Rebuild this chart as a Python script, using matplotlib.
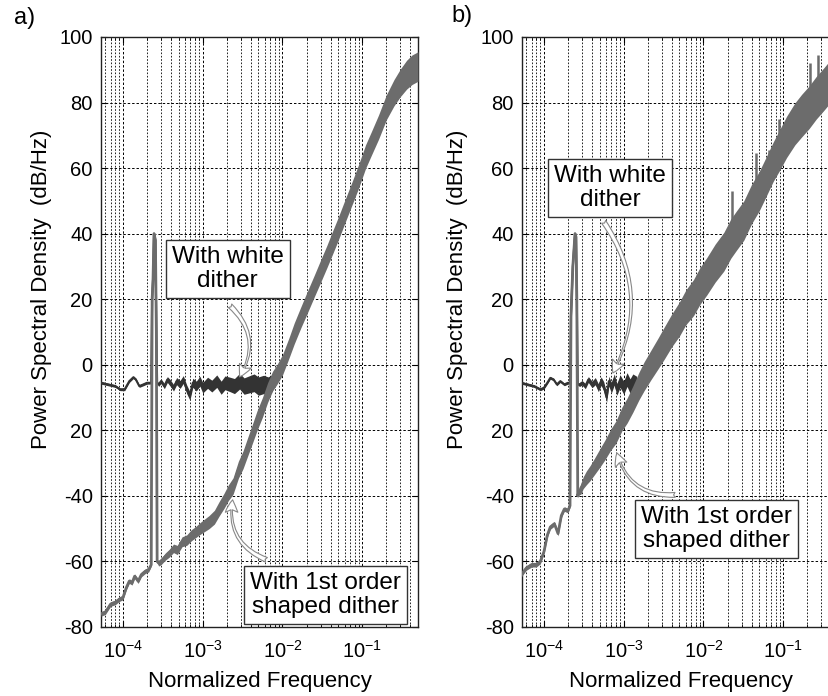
import numpy as np
import matplotlib
matplotlib.use("Agg")
from matplotlib import pyplot as plt
from matplotlib.ticker import LogLocator, NullFormatter

plt.rcParams['font.family'] = ['Liberation Sans', 'DejaVu Sans']
plt.rcParams['mathtext.default'] = 'regular'
plt.rcParams['axes.unicode_minus'] = False

# ---- panel a : white dither ----
wa_f = [5.3e-5, 6.5e-5, 8.0e-5, 9.2e-5, 1.05e-4, 1.2e-4, 1.35e-4, 1.45e-4, 1.6e-4, 1.8e-4,
        2.0e-4, 2.15e-4, 2.26e-4, 2.32e-4, 2.38e-4, 2.45e-4, 2.55e-4, 2.62e-4, 2.68e-4, 2.8e-4,
        3.0e-4, 3.3e-4, 3.6e-4, 3.9e-4, 4.3e-4, 4.7e-4, 5.2e-4, 5.7e-4, 6.3e-4, 6.9e-4,
        7.5e-4, 8.3e-4, 9.2e-4, 1.0e-3, 1.15e-3, 1.3e-3, 1.5e-3, 1.7e-3, 1.9e-3, 2.2e-3,
        2.5e-3, 2.9e-3, 3.3e-3, 3.8e-3, 4.4e-3, 5.0e-3, 5.8e-3, 6.6e-3, 7.5e-3]
wa_v = [-5.5, -6, -6.5, -7.5, -7.5, -5, -3.8, -4.5, -6.5, -6,
        -5.5, -5.5, -5.5, 20, 26, 40, 38, 10, -5.5, -6,
        -5, -6.5, -4.5, -5.5, -7, -5, -6, -4.5, -7.5, -9.5,
        -5.5, -6.5, -5, -7, -5.5, -6.5, -5, -7, -5.5, -6,
        -6.5, -5, -6.5, -6, -5.5, -6.5, -6, -6.5, -5.5]
wa_s = [0.4, 0.4, 0.4, 0.4, 0.4, 0.4, 0.4, 0.4, 0.4, 0.4,
        0.4, 0.4, 0.3, 0.3, 0.3, 0.3, 0.3, 0.3, 0.3, 0.6,
        0.7, 0.8, 0.9, 1.0, 1.0, 1.1, 1.2, 1.2, 1.3, 1.3,
        1.4, 1.5, 1.5, 1.6, 1.7, 1.8, 1.9, 2.0, 2.1, 2.2,
        2.3, 2.4, 2.5, 2.6, 2.7, 2.8, 2.8, 2.8, 2.5]

# ---- panel a : 1st order shaped dither ----
sa_f = [5.3e-5, 6.0e-5, 7.0e-5, 8.0e-5, 9.0e-5, 1.0e-4, 1.1e-4, 1.2e-4, 1.3e-4, 1.4e-4,
        1.55e-4, 1.7e-4, 1.9e-4, 2.1e-4, 2.26e-4, 2.32e-4, 2.38e-4, 2.45e-4, 2.55e-4, 2.62e-4,
        2.68e-4, 2.8e-4, 3.0e-4, 3.4e-4, 3.8e-4, 4.3e-4, 4.8e-4, 5.5e-4, 6.3e-4, 7.2e-4,
        8.2e-4, 9.2e-4, 1.05e-3, 1.2e-3, 1.4e-3, 1.6e-3, 1.85e-3, 2.1e-3, 2.4e-3, 2.8e-3,
        3.2e-3, 3.6e-3, 4.2e-3, 4.8e-3, 5.6e-3, 6.5e-3, 7.5e-3, 8.5e-3, 1.0e-2, 1.2e-2,
        1.4e-2, 1.7e-2, 2.0e-2, 2.5e-2, 3.0e-2, 3.6e-2, 4.2e-2, 5.0e-2, 6.0e-2, 7.5e-2,
        9.0e-2, 1.1e-1, 1.3e-1, 1.6e-1, 2.0e-1, 2.5e-1, 3.0e-1, 3.6e-1, 4.2e-1, 5.0e-1]
sa_v = [-76, -75.5, -73, -72.5, -71.5, -71, -68, -66, -66.5, -64.5,
        -66, -64, -63, -62.5, -61, 20, 26, 40, 38, 10,
        -60, -60.5, -60, -58.5, -57.5, -56, -56.5, -54, -53.5, -52,
        -51, -50, -49, -48, -46.5, -44, -41.5, -39, -37, -32,
        -29, -25.5, -21, -17, -13, -8.5, -5, -3, 0, 5,
        9.5, 14.5, 18.5, 24, 28.5, 33, 37, 41.5, 46.5, 52.5,
        57.5, 63.5, 67.5, 72.5, 78.5, 83, 86, 88.5, 90, 91]
sa_s = [0.7, 0.7, 0.7, 0.7, 0.7, 0.7, 0.7, 0.7, 0.7, 0.7,
        0.7, 0.7, 0.7, 0.7, 0.5, 0.3, 0.3, 0.3, 0.3, 0.3,
        0.5, 0.9, 1.0, 1.1, 1.2, 1.3, 1.4, 1.5, 1.6, 1.7,
        1.7, 1.8, 1.9, 2.0, 2.1, 2.2, 2.3, 2.4, 2.5, 2.6,
        2.7, 2.8, 2.9, 3.0, 3.0, 3.0, 3.0, 3.0, 3.1, 3.1,
        3.2, 3.2, 3.3, 3.3, 3.4, 3.4, 3.5, 3.5, 3.5, 3.5,
        3.6, 3.6, 3.6, 3.7, 3.8, 4.0, 4.2, 4.4, 4.5, 4.5]

# ---- panel b : white dither ----
wb_f = [5.2e-5, 6.2e-5, 7.5e-5, 9.0e-5, 1.0e-4, 1.1e-4, 1.2e-4, 1.32e-4, 1.45e-4, 1.6e-4,
        1.8e-4, 2.0e-4, 2.12e-4, 2.18e-4, 2.3e-4, 2.45e-4, 2.52e-4, 2.58e-4, 2.65e-4, 2.8e-4,
        3.0e-4, 3.3e-4, 3.6e-4, 4.0e-4, 4.4e-4, 4.8e-4, 5.2e-4, 5.6e-4, 6.1e-4, 6.5e-4,
        7.0e-4, 7.6e-4, 8.2e-4, 9.0e-4, 1.0e-3, 1.1e-3, 1.2e-3, 1.3e-3, 1.45e-3]
wb_v = [-5.5, -6, -6.5, -7.5, -7, -5.5, -4, -4.5, -6, -5,
        -6, -5.5, -5.5, 15, 30, 40, 39, 20, -6, -6,
        -5.5, -6.5, -4.5, -6, -5, -7, -5, -6.5, -10, -5,
        -7, -4.5, -7.5, -5, -7, -4.5, -6.5, -5, -5.5]
wb_s = [0.4, 0.4, 0.4, 0.4, 0.4, 0.4, 0.4, 0.4, 0.4, 0.4,
        0.4, 0.4, 0.3, 0.3, 0.3, 0.3, 0.3, 0.3, 0.3, 0.6,
        0.7, 0.8, 0.9, 1.0, 1.1, 1.2, 1.3, 1.4, 1.4, 1.5,
        1.6, 1.7, 1.8, 1.9, 2.0, 2.1, 2.2, 2.2, 2.0]

# ---- panel b : 1st order shaped dither ----
sb_f = [5.2e-5, 6.0e-5, 7.0e-5, 8.0e-5, 9.0e-5, 1.0e-4, 1.1e-4, 1.2e-4, 1.35e-4, 1.5e-4,
        1.65e-4, 1.8e-4, 2.0e-4, 2.12e-4, 2.18e-4, 2.3e-4, 2.45e-4, 2.52e-4, 2.58e-4, 2.65e-4,
        2.75e-4, 2.9e-4, 3.1e-4, 3.4e-4, 3.8e-4, 4.3e-4, 5.0e-4, 5.8e-4, 6.8e-4, 8.0e-4,
        9.5e-4, 1.1e-3, 1.3e-3, 1.55e-3, 1.8e-3, 2.2e-3, 2.7e-3, 3.2e-3, 4.0e-3, 5.0e-3,
        6.0e-3, 7.5e-3, 9.0e-3, 1.1e-2, 1.4e-2, 1.8e-2, 2.2e-2, 2.6e-2, 3.2e-2, 4.0e-2,
        5.0e-2, 6.0e-2, 7.5e-2, 9.0e-2, 1.1e-1, 1.4e-1, 1.7e-1, 2.1e-1, 2.6e-1, 3.2e-1,
        3.9e-1, 5.0e-1]
sb_v = [-64, -62, -61, -61, -60, -57, -52, -49.5, -48.5, -51.5,
        -46, -44, -44.5, -43, 15, 30, 40, 39, 20, -40,
        -38.5, -38, -36, -34.5, -33, -31, -28.5, -26, -23, -20.5,
        -16.5, -14, -10.5, -6.5, -3.5, 0, 3.5, 6.5, 10.5, 14,
        17.5, 20.5, 24, 27, 31, 34.5, 38.5, 41, 44, 49,
        53, 57, 62, 65.5, 69.5, 73.5, 76, 78.5, 81.5, 84,
        86.5, 89]
sb_s = [0.7, 0.7, 0.7, 0.7, 0.7, 0.7, 0.7, 0.7, 0.7, 0.7,
        0.7, 0.7, 0.7, 0.5, 0.3, 0.3, 0.3, 0.3, 0.3, 0.5,
        1.2, 1.5, 1.8, 2.1, 2.3, 2.5, 2.8, 3.0, 3.2, 3.4,
        3.6, 3.8, 4.0, 4.2, 4.4, 4.5, 4.7, 4.9, 5.0, 5.2,
        5.3, 5.5, 5.6, 5.7, 5.8, 5.9, 6.0, 6.0, 6.0, 6.0,
        6.0, 6.0, 6.0, 6.2, 6.3, 6.4, 6.5, 6.5, 6.5, 6.5,
        6.5, 6.5]
# narrow tones sticking out of the band in b
sb_tone_f = [2.3e-2, 4.55e-2, 6.6e-2, 8.9e-2, 2.15e-1, 2.7e-1]
sb_tone_top = [53, 64.5, 65.5, 75, 92, 94.5]

yticks = [-80, -60, -40, -20, 0, 20, 40, 60, 80, 100]
ytick_labels = ['-80', '-60', '-40', '20', '0', '20', '40', '60', '80', '100']

white_col = '#333333'
shaped_col = '#6c6c6c'

W, H = 829, 696
fig = plt.figure(figsize=(W / 100, H / 100), dpi=100)


def px_axes(left, right, top, bottom):
    return fig.add_axes([left / W, 1 - bottom / H, (right - left) / W, (bottom - top) / H])


def setup(ax):
    ax.set_xscale('log')
    ax.set_xlim(5.3e-5, 0.5)
    ax.set_ylim(-80, 100)
    ax.set_yticks(yticks)
    ax.set_yticklabels(ytick_labels)
    ax.xaxis.set_major_locator(LogLocator(base=10, numticks=10))
    ax.xaxis.set_minor_locator(LogLocator(base=10, subs=np.arange(2, 10), numticks=100))
    ax.xaxis.set_minor_formatter(NullFormatter())
    ax.grid(True, which='major', axis='both', color='black', linestyle=(0, (2.5, 2)), linewidth=0.7)
    ax.grid(True, which='minor', axis='x', color='black', linestyle=(0, (2, 2)), linewidth=0.6)
    ax.tick_params(which='both', direction='in', top=True, right=True, labelsize=14.5)
    ax.tick_params(which='major', length=4)
    ax.tick_params(which='minor', length=2)
    ax.tick_params(axis='x', pad=9)
    ax.tick_params(axis='y', pad=6)
    for sp in ax.spines.values():
        sp.set_color('#222222')
        sp.set_linewidth(1.0)
    ax.set_xlabel('Normalized Frequency', fontsize=16)
    ax.set_ylabel('Power Spectral Density  (dB/Hz)', fontsize=16)


def draw_curve(ax, f, v, s, col, lw, z):
    f = np.array(f)
    v = np.array(v)
    s = np.array(s)
    ax.fill_between(f, v - s, v + s, color=col, lw=0, zorder=z)
    ax.plot(f, v, color=col, lw=lw, zorder=z)


def label_box(ax, x, y, txt):
    ax.text(x, y, txt, fontsize=17.5, ha='center', va='center', zorder=6, linespacing=1.1,
            bbox=dict(boxstyle='square,pad=0.25', fc='white', ec='#333333', lw=1.0))


def hollow_arrow(ax, start, tip, rad):
    ax.annotate('', xy=tip, xytext=start, zorder=7,
                arrowprops=dict(arrowstyle='fancy,head_length=0.9,head_width=0.9,tail_width=0.35',
                                connectionstyle='arc3,rad=%s' % rad,
                                fc='white', ec='#888888', lw=0.8, shrinkA=0, shrinkB=0))


# panel a
ax1 = px_axes(101, 418, 37, 627)
setup(ax1)
draw_curve(ax1, wa_f, wa_v, wa_s, white_col, 1.5, 3)
draw_curve(ax1, sa_f, sa_v, sa_s, shaped_col, 2.0, 4)
label_box(ax1, 2.05e-3, 29.2, 'With white\ndither')
label_box(ax1, 3.46e-2, -70.2, 'With 1st order\nshaped dither')
hollow_arrow(ax1, (2.2e-3, 18), (2.9e-3, -3.7), -0.4)
hollow_arrow(ax1, (6.3e-3, -59.5), (2.37e-3, -41.2), -0.4)
ax1.yaxis.set_label_coords(-0.155, 0.573)
ax1.xaxis.set_label_coords(0.5, -0.075)

# panel b
ax2 = px_axes(522, 839, 37, 627)
setup(ax2)
draw_curve(ax2, wb_f, wb_v, wb_s, white_col, 1.5, 3)
draw_curve(ax2, sb_f, sb_v, sb_s, shaped_col, 2.0, 4)
ax2.vlines(sb_tone_f, np.interp(np.log10(sb_tone_f), np.log10(sb_f), sb_v), sb_tone_top,
           color=shaped_col, lw=1.8, zorder=4)
label_box(ax2, 6.8e-4, 53.9, 'With white\ndither')
label_box(ax2, 1.46e-2, -50.1, 'With 1st order\nshaped dither')
hollow_arrow(ax2, (5.6e-4, 43.6), (7.3e-4, -2.5), -0.3)
hollow_arrow(ax2, (4.4e-3, -39.7), (8.2e-4, -26.9), -0.4)
ax2.yaxis.set_label_coords(-0.17, 0.573)
ax2.xaxis.set_label_coords(0.5, -0.075)

fig.text(25 / W, 1 - 18 / H, 'a)', fontsize=17, ha='center', va='center')
fig.text(462 / W, 1 - 16 / H, 'b)', fontsize=17, ha='center', va='center')

fig.savefig('out.png', dpi=100)
